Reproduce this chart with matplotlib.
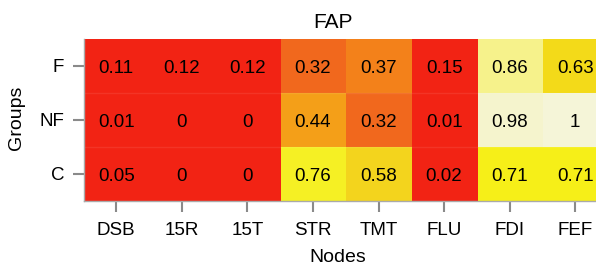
import numpy as np
import matplotlib
matplotlib.use('Agg')
import matplotlib.pyplot as plt
from matplotlib.colors import LinearSegmentedColormap

plt.rcParams['font.family'] = ['Liberation Sans', 'DejaVu Sans']

# data
nodes = ['DSB', '15R', '15T', 'STR', 'TMT', 'FLU', 'FDI', 'FEF']
groups = ['F', 'NF', 'C']
fap_F = [0.11, 0.12, 0.12, 0.32, 0.37, 0.15, 0.86, 0.63]
fap_NF = [0.01, 0, 0, 0.44, 0.32, 0.01, 0.98, 1]
fap_C = [0.05, 0, 0, 0.76, 0.58, 0.02, 0.71, 0.71]

vals = np.array([fap_F, fap_NF, fap_C])

# red -> orange -> yellow -> pale, like heat colours
cmap = LinearSegmentedColormap.from_list('heatish', [
    (0.0, '#F22314'), (0.2, '#F22314'), (0.32, '#F16A1E'),
    (0.37, '#F4821A'), (0.44, '#F4A018'), (0.58, '#F3D41E'),
    (0.63, '#F3DA1A'), (0.71, '#F7F018'), (0.76, '#F5F024'),
    (0.86, '#F7F28A'), (1.0, '#F5F5D8')])

fig = plt.figure(figsize=(5.96, 2.65), dpi=100)
ax = fig.add_axes([83.5/596, 1-201/265, (608-83.5)/596, (201-39)/265])

ax.imshow(vals, cmap=cmap, vmin=0, vmax=1, aspect='auto', interpolation='nearest')

# faint row borders
for k in range(1, len(groups)):
    ax.axhline(k-0.5, color='white', lw=1, alpha=0.08)

for i in range(len(groups)):
    for j in range(len(nodes)):
        v = vals[i, j]
        txt = '%g' % v
        ax.text(j, i+0.04, txt, ha='center', va='center', fontsize=13.5, color='black')

ax.set_xticks(range(len(nodes)))
ax.set_xticklabels(nodes, fontsize=13.5)
ax.set_yticks(range(len(groups)))
ax.set_yticklabels(groups, fontsize=13.5)
ax.tick_params(axis='both', color='#8a8a8a', length=8, width=1.5)
ax.tick_params(axis='x', pad=7)
ax.tick_params(axis='y', pad=6)

for s in ['top', 'right']:
    ax.spines[s].set_visible(False)
for s in ['left', 'bottom']:
    ax.spines[s].set_color('#aaaaaa')
    ax.spines[s].set_linewidth(1.0)

fig.text(333/596, 1-22/265, 'FAP', ha='center', va='center', fontsize=15)
fig.text(338/596, 1-258/265, 'Nodes', ha='center', va='center', fontsize=14)
fig.text(17/596, 1-118/265, 'Groups', ha='center', va='center', fontsize=14, rotation=90)

fig.savefig('out.png', dpi=100)
